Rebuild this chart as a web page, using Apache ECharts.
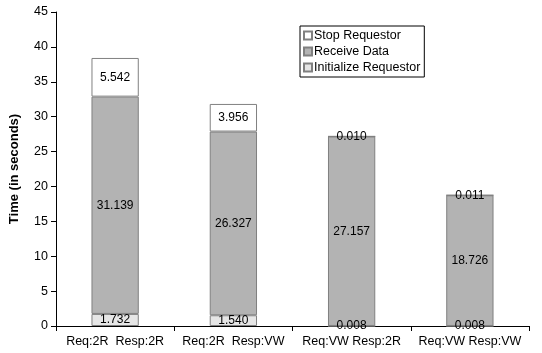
<!DOCTYPE html>
<html><head><meta charset="utf-8">
<script src="https://cdn.jsdelivr.net/npm/echarts@6/dist/echarts.min.js"></script>
<style>html,body{margin:0;padding:0;background:#fff}#c{width:542px;height:353px}</style>
</head><body><div id="c"></div>
<script>
const categories = ['Req:2R  Resp:2R', 'Req:2R  Resp:VW', 'Req:VW Resp:2R', 'Req:VW Resp:VW'];
const initializeRequestor = [1.732, 1.540, 0.008, 0.008];
const receiveData = [31.139, 26.327, 27.157, 18.726];
const stopRequestor = [5.542, 3.956, 0.010, 0.011];
const yTicks = [0, 5, 10, 15, 20, 25, 30, 35, 40, 45];

const font = 'Liberation Sans, Arial, sans-serif';
const chart = echarts.init(document.getElementById('c'), null, {renderer: 'canvas'});
function lbl(dec){
  return {show: true, position: 'inside', color: '#000', fontFamily: font, fontSize: 12,
    formatter: p => p.value.toFixed(dec)};
}
chart.setOption({
  animation: false,
  textStyle: {fontFamily: font},
  grid: {left: 56, right: 13, top: 12, bottom: 27},
  legend: {
    data: ['Stop Requestor', 'Receive Data', 'Initialize Requestor'],
    orient: 'vertical', left: 300, top: 26,
    borderColor: '#000', borderWidth: 1, padding: [3, 4, 3, 3], itemGap: 3,
    itemWidth: 8, itemHeight: 8, icon: 'rect',
    textStyle: {fontFamily: font, fontSize: 12.5, color: '#000', padding: [0, 0, 0, -3]}
  },
  xAxis: {
    type: 'category', data: categories,
    axisLine: {lineStyle: {color: '#000'}},
    axisTick: {show: true, length: 5, lineStyle: {color: '#000'}},
    axisLabel: {color: '#000', fontSize: 12.5, fontFamily: font, margin: 9, interval: 0}
  },
  yAxis: {
    type: 'value', min: yTicks[0], max: yTicks[yTicks.length - 1], interval: 5,
    name: 'Time (in seconds)', nameLocation: 'middle', nameGap: 35,
    nameTextStyle: {fontWeight: 'bold', fontSize: 13, color: '#000', fontFamily: font},
    axisLine: {show: true, lineStyle: {color: '#000'}},
    axisTick: {show: true, length: 5, lineStyle: {color: '#000'}},
    axisLabel: {color: '#000', fontSize: 12.5, fontFamily: font, margin: 8},
    splitLine: {show: false}
  },
  series: [
    {name: 'Initialize Requestor', type: 'bar', stack: 't', data: initializeRequestor, barWidth: '40%',
      itemStyle: {color: '#e6e6e6', borderColor: '#808080', borderWidth: 1}, label: lbl(3)},
    {name: 'Receive Data', type: 'bar', stack: 't', data: receiveData,
      itemStyle: {color: '#b3b3b3', borderColor: '#808080', borderWidth: 1}, label: lbl(3)},
    {name: 'Stop Requestor', type: 'bar', stack: 't', data: stopRequestor,
      itemStyle: {color: '#ffffff', borderColor: '#808080', borderWidth: 1}, label: lbl(3)}
  ]
});
</script></body></html>
